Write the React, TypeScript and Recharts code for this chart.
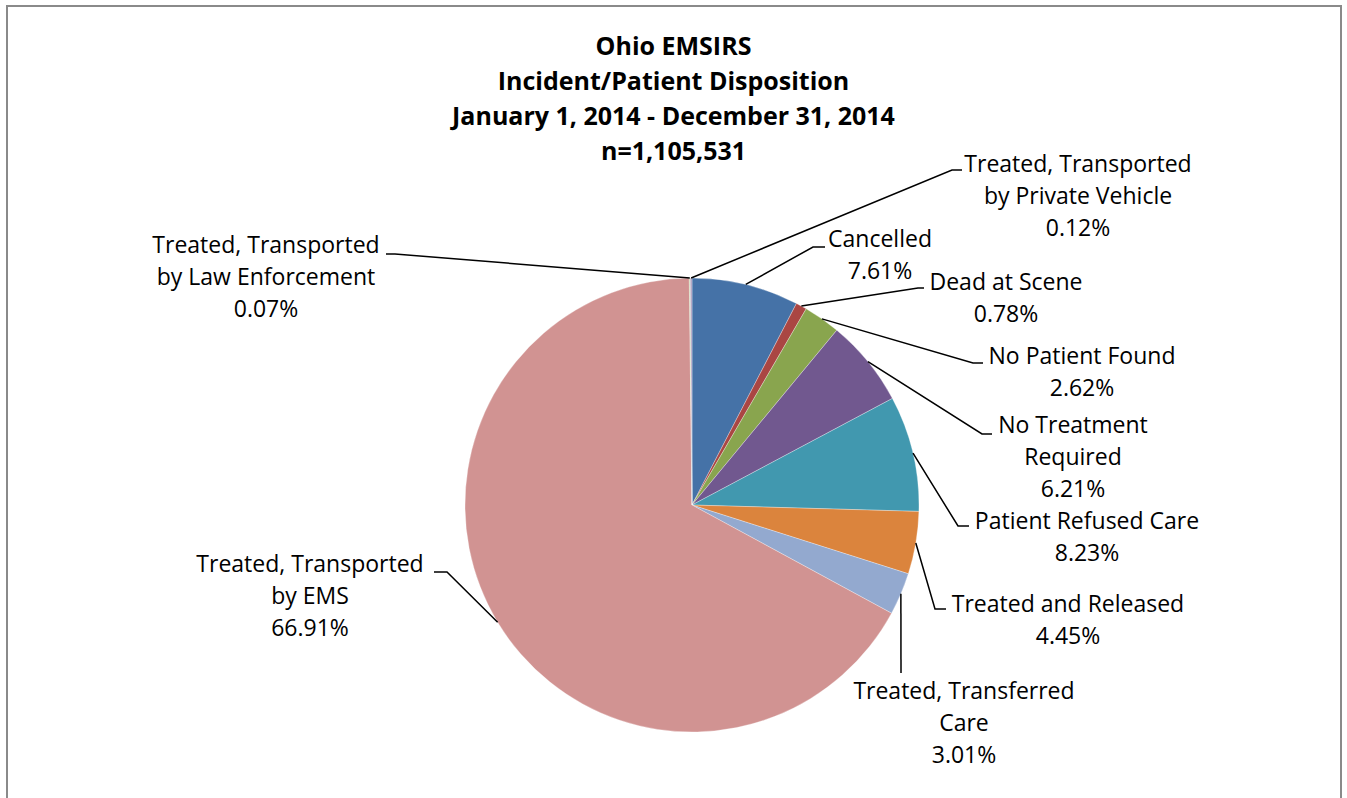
import { Cell, Pie, PieChart } from "recharts";

// Ohio EMSIRS incident/patient disposition, 2014 (percent of runs)
const categories = [
  "Cancelled",
  "Dead at Scene",
  "No Patient Found",
  "No Treatment Required",
  "Patient Refused Care",
  "Treated and Released",
  "Treated, Transferred Care",
  "Treated, Transported by EMS",
  "Treated, Transported by Law Enforcement",
  "Treated, Transported by Private Vehicle",
];

const percents = [7.61, 0.78, 2.62, 6.21, 8.23, 4.45, 3.01, 66.91, 0.07, 0.12];

const labelText = [
  ["Cancelled"],
  ["Dead at Scene"],
  ["No Patient Found"],
  ["No Treatment", "Required"],
  ["Patient Refused Care"],
  ["Treated and Released"],
  ["Treated, Transferred", "Care"],
  ["Treated, Transported", "by EMS"],
  ["Treated, Transported", "by Law Enforcement"],
  ["Treated, Transported", "by Private Vehicle"],
];

const titleLines = [
  "Ohio EMSIRS",
  "Incident/Patient Disposition",
  "January 1, 2014 - December 31, 2014",
  "n=1,105,531",
];

const colors = [
  "#4572a7",
  "#aa4643",
  "#89a54e",
  "#71588f",
  "#4198af",
  "#db843d",
  "#93a9cf",
  "#d19392",
  "#b9cd96",
  "#a99bbd",
];

// label placement, offsets from the pie centre:
// elbow of the leader, end of the leader, text centre x, first line centre y
const labelLayout = [
  { ex: 121, ey: -258, lx: 133, ly: -258, tx: 188, ty: -267 },
  { ex: 226, ey: -217, lx: 232, ly: -217, tx: 314, ty: -224 },
  { ex: 281, ey: -142, lx: 291, ly: -142, tx: 390, ty: -150 },
  { ex: 290, ey: -71, lx: 300, ly: -71, tx: 381, ty: -81 },
  { ex: 266, ey: 21, lx: 277, ly: 21, tx: 395, ty: 15 },
  { ex: 243, ey: 104, lx: 254, ly: 104, tx: 376, ty: 98 },
  { ex: 209, ey: 168, lx: 209, ly: 168, tx: 272, ty: 185 },
  { ex: -245, ey: 67, lx: -258, ly: 67, tx: -382, ty: 58 },
  { ex: -297, ey: -251, lx: -306, ly: -251, tx: -426, ty: -261 },
  { ex: 260, ey: -335, lx: 270, ly: -335, tx: 386, ty: -342 },
];

const LINE_H = 32;
const RAD = Math.PI / 180;

const data = categories.map((name, i) => ({ name, value: percents[i] }));

function renderLabel(props: any) {
  const { cx, cy, midAngle, outerRadius, index } = props;
  const lay = labelLayout[index];
  const sx = cx + outerRadius * Math.cos(-midAngle * RAD);
  const sy = cy + outerRadius * Math.sin(-midAngle * RAD);
  const lines = [...labelText[index], `${percents[index].toFixed(2)}%`];
  return (
    <g key={`lbl-${index}`}>
      <polyline
        points={`${sx},${sy} ${cx + lay.ex},${cy + lay.ey} ${cx + lay.lx},${cy + lay.ly}`}
        fill="none"
        stroke="#000"
        strokeWidth={1.5}
      />
      {lines.map((t, j) => (
        <text
          key={j}
          x={cx + lay.tx}
          y={cy + lay.ty + j * LINE_H}
          textAnchor="middle"
          dominantBaseline="central"
          fontFamily="'Open Sans', sans-serif"
          fontSize={23}
          fill="#000"
        >
          {t}
        </text>
      ))}
    </g>
  );
}

export default function App() {
  return (
    <div
      style={{
        position: "absolute",
        left: 0,
        top: 0,
        width: 1347,
        height: 798,
        overflow: "hidden",
        background: "#fff",
      }}
    >
      <div
        style={{
          position: "absolute",
          left: 6,
          top: 5,
          width: 1332,
          height: 800,
          border: "2px solid #8a8a8a",
          borderBottom: "none",
        }}
      />
      <div
        style={{
          position: "absolute",
          left: 0,
          top: 28,
          width: 1347,
          textAlign: "center",
          fontFamily: "'Open Sans', sans-serif",
          fontWeight: 700,
          fontSize: 25,
          lineHeight: "35px",
          color: "#000",
        }}
      >
        {titleLines.map((t) => (
          <div key={t}>{t}</div>
        ))}
      </div>
      <div style={{ position: "absolute", left: 0, top: 0 }}>
        <PieChart
          width={1347}
          height={798}
          margin={{ top: 0, right: 0, bottom: 0, left: 0 }}
        >
          <Pie
            data={data}
            dataKey="value"
            nameKey="name"
            cx={692}
            cy={505}
            outerRadius={227}
            startAngle={90}
            endAngle={-270}
            stroke="rgba(255,255,255,0.6)"
            strokeWidth={0.5}
            label={renderLabel}
            labelLine={false}
            isAnimationActive={false}
          >
            {data.map((d, i) => (
              <Cell key={d.name} fill={colors[i]} />
            ))}
          </Pie>
        </PieChart>
      </div>
    </div>
  );
}
